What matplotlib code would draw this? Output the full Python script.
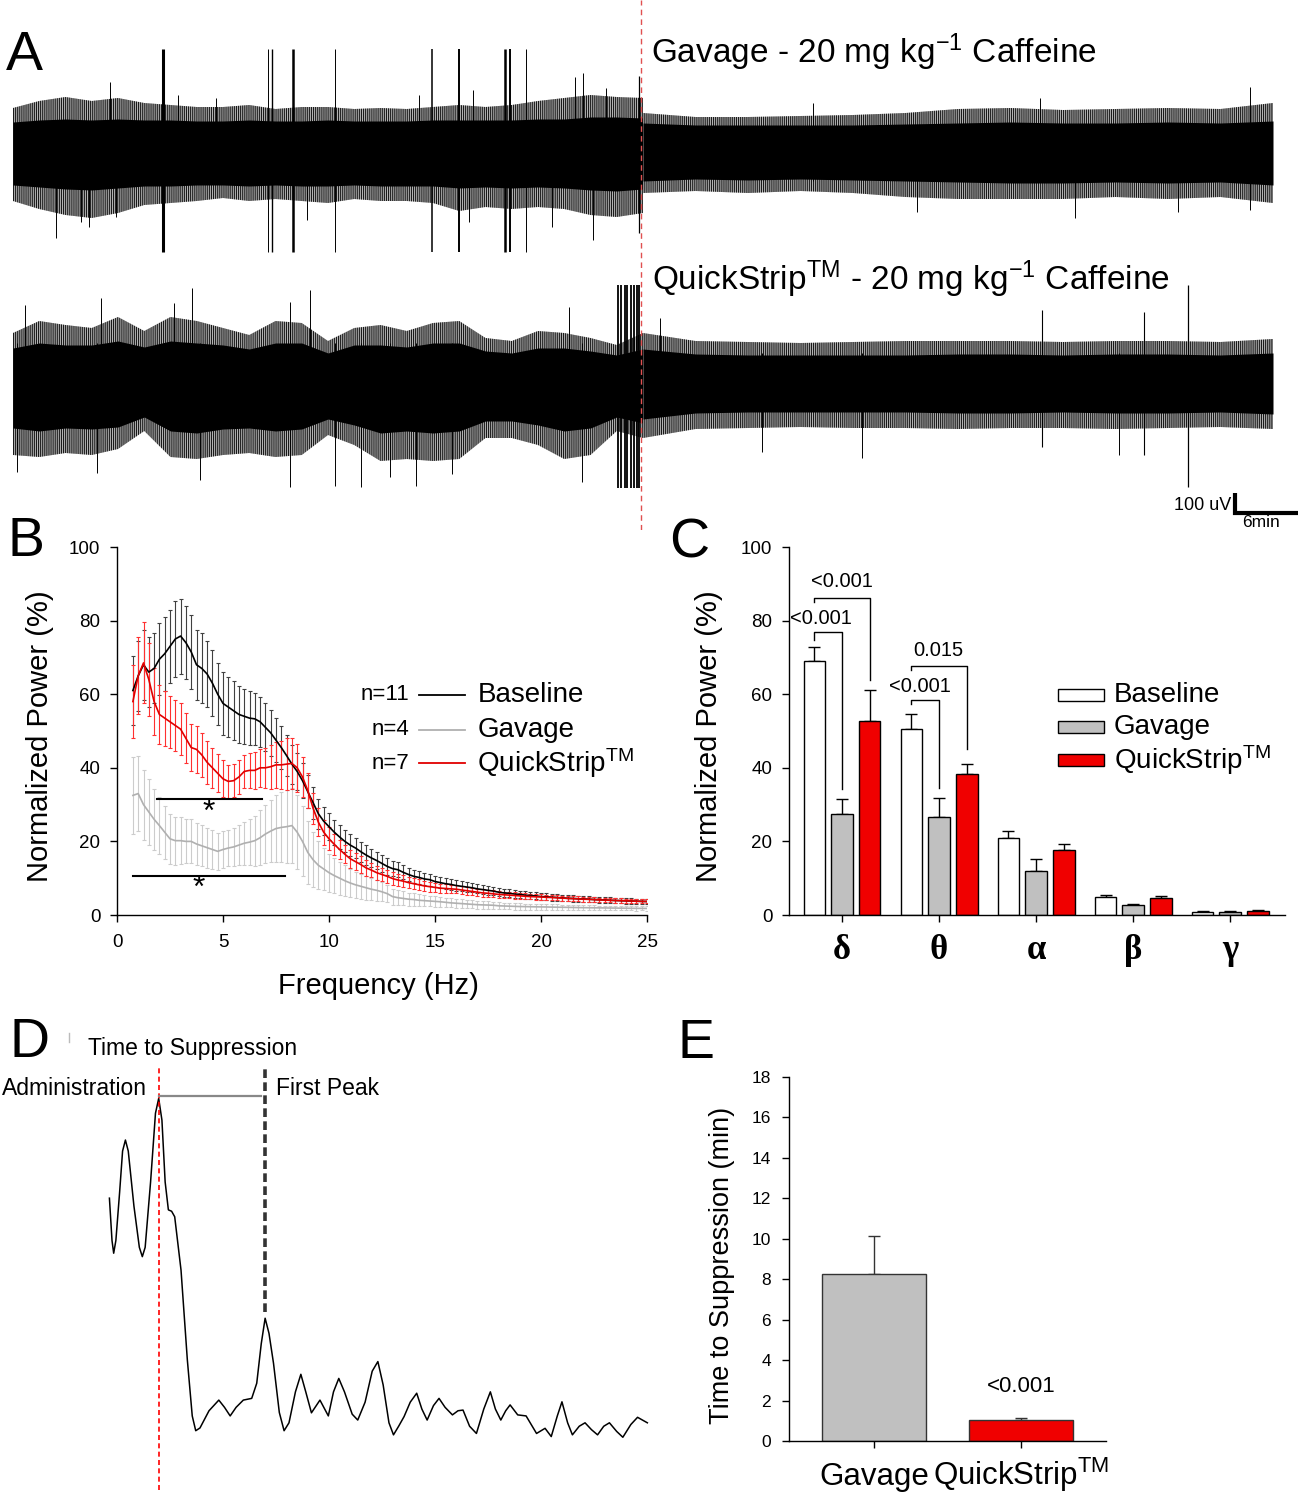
import numpy as np
import matplotlib.pyplot as plt
from matplotlib.patches import Rectangle

plt.rcParams['font.family'] = ['Liberation Sans', 'DejaVu Sans']
plt.rcParams['mathtext.fontset'] = 'custom'
plt.rcParams['mathtext.rm'] = 'Liberation Sans'
plt.rcParams['mathtext.it'] = 'Liberation Sans:italic'
plt.rcParams['mathtext.bf'] = 'Liberation Sans:bold'
plt.rcParams['hatch.linewidth'] = 0.8

# ---------------- data: panel A (EEG envelopes, uV)
t_pre = [0, 2.5, 5, 7.5, 10, 12.5, 15, 17.5, 20, 22.5, 25, 27.5, 30, 32.5,
         35, 37.5, 40, 42.5, 45, 47.5, 50, 52.5, 55, 57.5, 60]
t_post = [60, 65, 70, 75, 80, 85, 90, 95, 100, 105, 110, 115, 120]

gav_fuzz_hi_pre = [225, 260, 280, 260, 275, 250, 240, 230, 230, 240, 220, 230, 230,
                   220, 225, 220, 230, 240, 230, 240, 260, 275, 290, 280, 275]
gav_fuzz_lo_pre = [-240, -280, -310, -325, -300, -260, -250, -240, -225, -240, -230, -240, -250,
                   -230, -240, -240, -250, -290, -270, -280, -270, -280, -310, -320, -300]
gav_core_hi_pre = [155, 165, 170, 165, 170, 165, 165, 160, 160, 165, 160, 160, 165,
                   160, 160, 160, 165, 165, 165, 165, 170, 170, 180, 180, 175]
gav_core_lo_pre = [-160, -170, -180, -185, -175, -165, -165, -160, -160, -165, -160, -165, -165,
                   -160, -165, -165, -165, -175, -170, -175, -170, -175, -185, -190, -180]
gav_fuzz_hi_post = [200, 180, 180, 185, 190, 200, 220, 225, 215, 220, 225, 220, 250]
gav_fuzz_lo_post = [-200, -190, -200, -190, -200, -220, -230, -230, -230, -220, -230, -220, -250]
gav_core_hi_post = [150, 140, 140, 140, 140, 145, 150, 155, 150, 150, 155, 150, 160]
gav_core_lo_post = [-140, -130, -135, -130, -135, -140, -145, -150, -150, -145, -150, -145, -160]

qs_fuzz_hi_pre = [250, 310, 290, 275, 330, 260, 330, 310, 275, 240, 310, 300, 210,
                  275, 290, 260, 300, 310, 225, 210, 260, 250, 225, 190, 250]
qs_fuzz_lo_pre = [-360, -370, -350, -360, -330, -240, -370, -380, -360, -350, -370, -360, -260,
                  -310, -390, -380, -390, -380, -275, -275, -310, -380, -360, -240, -275]
qs_core_hi_pre = [175, 200, 190, 190, 210, 180, 210, 200, 190, 170, 200, 200, 150,
                  190, 190, 180, 200, 200, 160, 150, 175, 175, 160, 140, 170]
qs_core_lo_pre = [-225, -240, -225, -230, -220, -170, -240, -250, -230, -225, -240, -230, -180,
                  -210, -250, -240, -250, -240, -190, -190, -210, -240, -225, -170, -200]
qs_fuzz_hi_post = [250, 210, 205, 200, 205, 210, 210, 210, 205, 210, 210, 205, 220]
qs_fuzz_lo_post = [-275, -230, -225, -220, -225, -225, -230, -225, -225, -230, -225, -220, -230]
qs_core_hi_post = [170, 145, 140, 140, 140, 140, 145, 145, 140, 145, 145, 140, 150]
qs_core_lo_post = [-180, -150, -145, -145, -145, -145, -150, -150, -145, -150, -150, -145, -155]

# spikes: time (min), top (uV), bottom (uV), width (pt)
gav_spk_t = [14.29, 24.29, 24.67, 26.67, 30.67, 39.9, 42.48, 46.86, 47.33, 48.86,
             4.1, 6.48, 7.24, 9.24, 9.8, 15.7, 19.3, 28.0, 38.7, 43.4, 43.8, 51.3,
             53.5, 54.3, 55.2, 56.5, 59.6,
             76.2, 86.1, 97.8, 101.1, 111.0, 117.8]
gav_spk_hi = [520, 520, 520, 520, 520, 520, 520, 520, 520, 520,
              150, 150, 150, 355, 150, 290, 275, 150, 290, 150, 315, 150,
              380, 400, 150, 325, 385,
              250, 140, 275, 140, 140, 330]
gav_spk_lo = [-495, -495, -495, -495, -495, -495, -495, -495, -495, -495,
              -425, -345, -370, -150, -320, -150, -150, -335, -150, -345, -150, -370,
              -150, -150, -435, -150, -400,
              -140, -295, -140, -325, -295, -285]
gav_spk_w = [2.2, 0.7, 1.0, 1.8, 0.7, 1.1, 1.4, 1.8, 1.4, 0.7,
             0.7, 0.7, 0.7, 0.7, 0.7, 0.7, 0.7, 0.7, 0.7, 0.7, 0.7, 0.7,
             0.7, 0.7, 0.7, 0.7, 0.9,
             0.7, 0.7, 0.7, 0.7, 0.7, 0.7]

qs_spk_t = [57.62, 57.9, 58.24, 58.48, 58.86, 59.14, 59.43, 59.62,
            17.05, 28.29, 26.38, 30.67, 33.14, 38.38,
            1.14, 8.38, 15.33, 52.95, 0.38, 8.0, 17.8, 35.9, 41.8, 54.2,
            61.62, 98.0, 107.7, 111.9, 71.3, 80.9, 105.3]
qs_spk_hi = [490, 490, 490, 490, 490, 490, 490, 490,
             475, 465, 405, 200, 200, 200,
             390, 425, 400, 380, 200, 200, 200, 200, 200, 200,
             325, 365, 355, 490, 150, 150, 150]
qs_spk_lo = [-525, -525, -525, -525, -525, -525, -525, -525,
             -200, -200, -520, -515, -520, -515,
             -200, -200, -200, -200, -445, -450, -485, -470, -455, -495,
             -150, -320, -360, -520, -345, -375, -360]
qs_spk_w = [1.3, 1.3, 1.3, 1.3, 1.3, 1.3, 1.3, 1.3,
            0.7, 0.7, 0.7, 0.7, 0.7, 0.7,
            0.7, 0.7, 0.7, 0.7, 0.7, 0.7, 0.7, 0.7, 0.7, 0.7,
            0.7, 0.8, 0.8, 0.9, 0.7, 0.7, 0.7]

# ---------------- data: panel B (normalized power spectra, mean and SEM)
freq = np.arange(0.75, 25.01, 0.25)
base_mean = [61, 65, 68, 66, 67, 69.5, 71, 73, 75, 75.8, 74, 71.5, 68, 67, 65.5, 63, 60, 57.5,
             56.5, 55.5, 54.5, 54, 53.5, 53.3, 52.5, 51, 49.5, 47.5, 45.5, 43.3, 41, 39, 36.5,
             33.5, 30.5, 27.5, 25.5, 24,
             22.5, 21.2, 20, 19, 18.2, 17.2, 16.3, 15.5, 14.8, 14, 13.2, 12.6, 12.3, 11.6, 11,
             10.5, 10.2, 9.8, 9.6, 9.1, 8.8, 8.5, 8.3, 8.0, 7.8, 7.6, 7.4, 7.1, 6.9, 6.7, 6.5,
             6.2, 6.0, 5.9, 5.7, 5.6, 5.4, 5.3, 5.2, 5.0, 4.95, 4.85, 4.75, 4.65, 4.55, 4.5,
             4.4, 4.35, 4.3, 4.2, 4.15, 4.1, 4.0, 3.95, 3.9, 3.85, 3.8, 3.75, 3.7, 3.65]
base_sem = [9.5, 9.5, 9.5, 9.5, 9.5, 9.8, 10, 10, 10.2, 10.2, 10, 10, 9.5, 9.5, 9, 9, 8.5, 8.5,
            8.2, 8, 7.8, 7.5, 7.3, 7, 6.8, 6.5, 6.2, 6, 5.8, 5.5, 5.3, 5, 4.8, 4.5, 4.3, 4,
            3.8, 3.6,
            3.4, 3.2, 3.0, 2.9, 2.8, 2.7, 2.6, 2.5, 2.4, 2.3, 2.2, 2.1, 2.0, 1.9, 1.85, 1.8,
            1.75, 1.7, 1.65, 1.6, 1.55, 1.5, 1.45, 1.4, 1.35, 1.3, 1.28, 1.25, 1.22, 1.2, 1.18,
            1.15, 1.12, 1.1, 1.08, 1.05, 1.02, 1.0, 0.98, 0.95, 0.93, 0.92, 0.9, 0.88, 0.86,
            0.85, 0.84, 0.82, 0.8, 0.79, 0.78, 0.77, 0.76, 0.75, 0.74, 0.73, 0.72, 0.71, 0.7, 0.7]
qs_mean = [58, 65, 68.5, 64, 58, 54.5, 53.5, 52.5, 51.5, 50.5, 48, 45.5, 45, 43.5, 41.5, 40,
           38.5, 37, 36.3, 36.5, 37.5, 39, 39.3, 39.3, 40, 40, 40.3, 40.8, 40.8, 41, 41.2, 40,
           37.5, 33.8, 29, 25.2, 22.5, 20.7,
           19.2, 17.8, 16.5, 15.3, 14.5, 13.7, 12.8, 12.2, 11.5, 11.0, 10.5, 9.9, 9.5, 9.2,
           8.8, 8.5, 8.2, 7.9, 7.7, 7.5, 7.3, 7.2, 7.1, 7.0, 6.8, 6.6, 6.4, 6.2, 6.0, 5.9,
           5.75, 5.6, 5.5, 5.4, 5.3, 5.2, 5.1, 5.0, 4.95, 4.9, 4.8, 4.75, 4.7, 4.6, 4.5, 4.45,
           4.4, 4.3, 4.25, 4.2, 4.1, 4.05, 4.0, 3.95, 3.9, 3.85, 3.8, 3.75, 3.7, 3.7]
qs_sem = [10, 10.5, 11, 10, 9, 8, 7.5, 7, 7, 7, 6.8, 6.5, 6.3, 6, 5.8, 5.5, 5.2, 5, 4.5, 4.5,
          4.5, 4.5, 4.8, 5, 5.2, 5.5, 6, 6.3, 6.6, 7, 7, 6.5, 5.5, 4.8, 4.2, 3.8, 3.4, 3.1,
          2.9, 2.7, 2.5, 2.4, 2.3, 2.2, 2.1, 2.0, 1.9, 1.85, 1.8, 1.7, 1.65, 1.6, 1.55, 1.5,
          1.45, 1.4, 1.35, 1.3, 1.25, 1.2, 1.15, 1.1, 1.08, 1.05, 1.02, 1.0, 0.98, 0.95, 0.92,
          0.9, 0.88, 0.86, 0.84, 0.82, 0.8, 0.78, 0.76, 0.75, 0.74, 0.72, 0.7, 0.69, 0.68, 0.67,
          0.66, 0.65, 0.64, 0.63, 0.62, 0.61, 0.6, 0.6, 0.59, 0.58, 0.57, 0.56, 0.55, 0.55]
gav_mean = [32.5, 33, 30, 28, 26, 24.3, 22.5, 20.7, 20.2, 20.2, 20, 20, 19.3, 18.8, 18.3,
            17.8, 17.3, 17.8, 18.2, 18.5, 19, 19.5, 19.8, 20.2, 21, 22, 22.8, 23.5, 23.8, 24,
            24.3, 22.5, 20, 17, 15, 13.5, 12.5, 11.5,
            10.7, 10, 9.3, 8.7, 8.2, 7.8, 7.4, 7.0, 6.7, 6.3, 5.8, 5.0, 4.7, 4.5, 4.3, 4.2,
            4.0, 3.9, 3.8, 3.7, 3.6, 3.45, 3.3, 3.2, 3.1, 3.0, 2.9, 2.8, 2.75, 2.7, 2.65, 2.5,
            2.45, 2.4, 2.35, 2.3, 2.28, 2.25, 2.22, 2.2, 2.18, 2.15, 2.12, 2.1, 2.08, 2.05,
            2.02, 2.0, 1.98, 1.96, 1.94, 1.92, 1.9, 1.88, 1.86, 1.84, 1.82, 1.8, 1.8, 1.78]
gav_sem = [10.5, 10.3, 9.5, 9, 8.3, 7.7, 7.2, 6.8, 6.5, 6.3, 6, 6, 5.8, 5.6, 5.4, 5.2, 5, 5,
           5, 5.2, 5.5, 5.8, 6.2, 6.8, 7.5, 8, 8.5, 9, 9.5, 10, 10.2, 10, 9.5, 8.5, 7.5, 6.5,
           5.8, 5.2,
           4.8, 4.5, 4.2, 3.9, 3.6, 3.4, 3.2, 3.0, 2.8, 2.6, 2.4, 2.2, 2.0, 1.9, 1.8, 1.7,
           1.6, 1.5, 1.45, 1.4, 1.35, 1.3, 1.25, 1.2, 1.15, 1.1, 1.08, 1.05, 1.02, 1.0, 0.98,
           0.95, 0.92, 0.9, 0.88, 0.86, 0.84, 0.82, 0.8, 0.78, 0.76, 0.75, 0.74, 0.72, 0.7,
           0.69, 0.68, 0.67, 0.66, 0.65, 0.64, 0.63, 0.62, 0.61, 0.6, 0.6, 0.59, 0.58, 0.57, 0.56]

# ---------------- data: panel C (band power)
bands = ['δ', 'θ', 'α', 'β', 'γ']
c_base = [69.0, 50.5, 20.9, 4.95, 0.9]
c_base_err = [3.8, 4.2, 1.8, 0.45, 0.15]
c_gav = [27.4, 26.5, 11.9, 2.7, 0.9]
c_gav_err = [4.1, 5.4, 3.2, 0.4, 0.2]
c_qs = [52.6, 38.2, 17.7, 4.5, 1.2]
c_qs_err = [8.6, 2.7, 1.6, 0.6, 0.2]
c_pvals = ['<0.001', '<0.001', '<0.001', '0.015']

# ---------------- data: panel D (schematic power trace)
d_time = [-3.82, -3.62, -3.49, -3.32, -3.03, -2.8, -2.58, -2.36, -1.92, -1.5, -1.27, -1.05,
          -0.63, -0.25, 0.0, 0.25, 0.5, 0.75, 1.0, 1.24, 1.73, 2.22, 2.6, 2.87, 3.2, 3.9,
          4.66, 5.1, 5.54, 6.0, 6.56, 7.21, 7.6, 7.95, 8.25, 8.55, 8.9, 9.35, 9.72, 10.1,
          10.6, 11.02, 11.4, 11.84, 12.5, 13.15, 13.55, 13.96, 14.4, 15.0, 15.43, 16.0,
          16.55, 16.99, 17.4, 17.85, 18.2, 18.6, 19.02, 19.5, 20.0, 20.4, 20.81, 21.3,
          21.73, 22.2, 22.77, 23.2, 23.59, 24.1, 24.63, 25.2, 25.71, 26.1, 26.52, 26.9,
          27.24, 27.83, 28.48, 29.29, 29.95, 30.43, 30.9, 31.26, 31.7, 32.07, 32.6, 33.05,
          33.55, 34.02, 34.5, 34.94, 35.5, 35.98, 36.6, 37.12, 37.88]
d_power = [70.3, 58, 54.3, 58, 72, 84, 87.2, 84, 68, 56, 53.3, 56,
           75, 95, 99.3, 93, 75, 66.9, 66.5, 64.9, 49.4, 23.3, 7, 2.7, 3.5, 8.5,
           11.6, 9.5, 7.0, 9.5, 11.6, 12.1, 16.5, 28, 35.4, 31, 22.3, 8, 2.7, 5,
           14, 19.1, 14, 7.9, 11.6, 7.0, 14, 17.9, 14, 7.5, 5.8, 11,
           20, 22.8, 16, 5, 1.5, 4, 6.8, 11, 13.6, 9, 5.8, 10,
           12.1, 9.5, 7.3, 8.5, 8.7, 4, 1.9, 9, 14.0, 9, 5.8, 8.5,
           10.2, 7.3, 7.0, 1.9, 3.4, 1.0, 7, 11.1, 5, 1.5, 4, 5.0,
           3, 1.5, 4, 5.0, 2.5, 0.8, 4.5, 6.6, 5.0]
d_suppression = 8.25

# ---------------- data: panel E
e_groups = ['Gavage', r'QuickStrip$^{\mathrm{TM}}$']
e_mean = [8.25, 1.05]
e_err = [1.9, 0.07]

GRAY = '#c0c0c0'
RED = '#f00000'

W, H = 1299, 1495


def box(x0, y0, x1, y1):
    """pixel box (top-left origin) -> figure rect"""
    return [x0 / W, 1 - y1 / H, (x1 - x0) / W, (y1 - y0) / H]


fig = plt.figure(figsize=(W / 100, H / 100), dpi=100)

# ======================= A
axA = fig.add_axes(box(0, 0, W, 530))
PX_T, PX_V = 10.5, 5.0
axA.set_xlim(-13 / PX_T, (W - 13) / PX_T)
axA.set_ylim(-(530 - 153) * PX_V, 153 * PX_V)
axA.axis('off')

traces = [
    (0, (gav_fuzz_lo_pre, gav_fuzz_hi_pre, gav_core_lo_pre, gav_core_hi_pre),
     (gav_fuzz_lo_post, gav_fuzz_hi_post, gav_core_lo_post, gav_core_hi_post),
     (gav_spk_t, gav_spk_lo, gav_spk_hi, gav_spk_w)),
    (-1150, (qs_fuzz_lo_pre, qs_fuzz_hi_pre, qs_core_lo_pre, qs_core_hi_pre),
     (qs_fuzz_lo_post, qs_fuzz_hi_post, qs_core_lo_post, qs_core_hi_post),
     (qs_spk_t, qs_spk_lo, qs_spk_hi, qs_spk_w)),
]
for off, pre, post, spk in traces:
    for tt, (flo, fhi, clo, chi) in ((t_pre, pre), (t_post, post)):
        # fringe of the trace: dense thin vertical strokes
        axA.fill_between(tt, off + np.array(flo), off + np.array(fhi), facecolor='#b8b8b8',
                         edgecolor='#1a1a1a', hatch='||||||||', lw=0)
        axA.fill_between(tt, off + np.array(clo), off + np.array(chi), color='k', lw=0)
    st, slo, shi, sw = spk
    axA.vlines(st, off + np.array(slo), off + np.array(shi), colors='k', linewidths=sw)

axA.axvline(59.8, color='#e05050', lw=1.0, ls=(0, (4, 3)))
axA.text(60.76, 450, r'Gavage - 20 mg kg$^{\mathrm{-1}}$ Caffeine', fontsize=24,
         ha='left', va='baseline')
axA.text(60.86, -685, r'QuickStrip$^{\mathrm{TM}}$ - 20 mg kg$^{\mathrm{-1}}$ Caffeine',
         fontsize=24, ha='left', va='baseline')
# scale bar
axA.plot([116.4, 116.4, 122.4], [-1700, -1800, -1800], color='k', lw=3,
         solid_capstyle='butt', solid_joinstyle='miter')
axA.text(116.0, -1785, '100 uV', fontsize=13, ha='right', va='baseline')
axA.text(118.9, -1872, '6min', fontsize=12.5, ha='center', va='baseline')


def style_axes(ax, size=13.5):
    for s in ('top', 'right'):
        ax.spines[s].set_visible(False)
    ax.spines['left'].set_linewidth(1)
    ax.spines['bottom'].set_linewidth(1)
    ax.tick_params(direction='out', length=5, width=1, labelsize=size)


# ======================= B
axB = fig.add_axes(box(117, 547, 647, 915))
for mean, sem, col, ecol in ((gav_mean, gav_sem, '#b0b0b0', '#cccccc'),
                             (base_mean, base_sem, 'k', '#404040'),
                             (qs_mean, qs_sem, '#e00000', '#ff3030')):
    axB.errorbar(freq, mean, yerr=sem, color=col, ecolor=ecol, lw=1.2,
                 elinewidth=0.8, capsize=1.3, capthick=0.8)
axB.set_xlim(0, 25)
axB.set_ylim(0, 100)
axB.set_xticks([0, 5, 10, 15, 20, 25])
axB.set_yticks([0, 20, 40, 60, 80, 100])
style_axes(axB)
axB.tick_params(axis='x', pad=9)
axB.tick_params(axis='y', pad=7)
# significance bars
axB.plot([1.89, 6.84], [31.5, 31.5], color='k', lw=1.5)
axB.text(4.34, 27.8, '*', fontsize=23, ha='center', va='center')
axB.plot([0.75, 7.92], [10.6, 10.6], color='k', lw=1.5)
axB.text(3.87, 7.1, '*', fontsize=23, ha='center', va='center')
# legend
legB = [('n=11', 'Baseline', 'k'), ('n=4', 'Gavage', '#b0b0b0'),
        ('n=7', r'QuickStrip$^{\mathrm{TM}}$', '#e00000')]
for i, (n, lab, col) in enumerate(legB):
    yy = [0.598, 0.503, 0.413][i]
    axB.text(0.552, yy, n, transform=axB.transAxes, fontsize=16, ha='right', va='center')
    axB.plot([0.570, 0.656], [yy, yy], transform=axB.transAxes, color=col, lw=1.3)
    axB.text(0.680, yy, lab, transform=axB.transAxes, fontsize=20, ha='left', va='center')
fig.text(40 / W, 1 - 736 / H, 'Normalized Power (%)', rotation=90, fontsize=21,
         ha='center', va='center')
fig.text(378 / W, 1 - 986 / H, 'Frequency (Hz)', fontsize=21, ha='center', va='center')

# ======================= C
axC = fig.add_axes(box(789, 547, 1285, 915))
xc = np.arange(len(bands))
off, bw = 0.285, 0.222
zero = np.zeros(len(bands))
for dx, vals, errs, col in ((-off, c_base, c_base_err, 'white'), (0, c_gav, c_gav_err, GRAY),
                            (off, c_qs, c_qs_err, RED)):
    axC.bar(xc + dx, vals, bw, color=col, edgecolor='k', lw=1, zorder=2)
    axC.errorbar(xc + dx, vals, yerr=[zero, errs], fmt='none', ecolor='k', elinewidth=1,
                 capsize=4, capthick=1, zorder=1)
axC.set_xlim(-0.547, 4.565)
axC.set_ylim(0, 100)
axC.set_yticks([0, 20, 40, 60, 80, 100])
axC.set_xticks(xc)
style_axes(axC)
axC.set_xticklabels(bands, fontfamily=['Liberation Serif', 'DejaVu Serif'], fontsize=25,
                    fontweight='bold')
axC.tick_params(axis='x', pad=9)
axC.tick_params(axis='y', pad=7)
# comparison brackets: (left bar x, right bar x, top, left end, right end, label x, label y)
brk = [(-off, 0, 76.9, 74.7, 34.2, -0.213, 80.7),
       (-off, off, 86.2, 85.0, 63.8, 0.0, 90.6),
       (1 - off, 1, 58.4, 57.4, 34.6, 0.803, 62.2),
       (1 - off, 1 + off, 67.6, 66.5, 45.1, 0.993, 72.0)]
for (xl, xr, top, yl, yr, tx, ty), p in zip(brk, c_pvals):
    axC.plot([xl, xl, xr, xr], [yl, top, top, yr], color='k', lw=1)
    axC.text(tx, ty, p, fontsize=14.5, ha='center', va='center')
legC = [('Baseline', 'white'), ('Gavage', GRAY), (r'QuickStrip$^{\mathrm{TM}}$', RED)]
for i, (lab, col) in enumerate(legC):
    yy = [(915 - 695) / 368, (915 - 727) / 368, (915 - 760) / 368][i]
    axC.add_patch(Rectangle(((1058 - 789) / 496, yy - 6 / 368), 46 / 496, 12 / 368,
                            transform=axC.transAxes, facecolor=col, edgecolor='k',
                            lw=1, clip_on=False))
    axC.text((1114 - 789) / 496, yy, lab, transform=axC.transAxes, fontsize=20,
             ha='left', va='center')
fig.text(709 / W, 1 - 736 / H, 'Normalized Power (%)', rotation=90, fontsize=21,
         ha='center', va='center')

# ======================= D
axD = fig.add_axes(box(0, 1010, 660, 1495))
axD.set_xlim(-158.7 / 12.9, (660 - 158.7) / 12.9)
axD.set_ylim((1440 - 1495) / 3.44, (1440 - 1010) / 3.44)
axD.axis('off')
axD.plot(d_time, d_power, color='k', lw=1.1)
axD.plot([0, 0], [-14.5, 108], color='#ff0000', lw=1.2, ls=(0, (3, 2)))
axD.plot([d_suppression] * 2, [37.2, 108], color='#333333', lw=2.6, ls=(0, (2.4, 1.2)))
axD.plot([0, d_suppression - 0.35], [100, 100], color='#888888', lw=1.6)
axD.plot([-6.95, -6.95], [115.7, 118.3], color='#bbbbbb', lw=1)
axD.text(-5.45, 111.9, 'Time to Suppression', fontsize=16.5, ha='left', va='baseline')
axD.text(-0.88, 100.3, 'Administration', fontsize=16.5, ha='right', va='baseline')
axD.text(9.13, 100.3, 'First Peak', fontsize=16.5, ha='left', va='baseline')

# ======================= E
axE = fig.add_axes(box(789, 1077, 1106, 1441))
xe = np.arange(len(e_groups))
axE.bar(xe, e_mean, 0.71, color=[GRAY, RED], edgecolor='#333333', lw=1, zorder=2)
axE.errorbar(xe, e_mean, yerr=[[0, 0], e_err], fmt='none', ecolor='#333333', elinewidth=1,
             capsize=4, capthick=1, zorder=1)
axE.set_xlim(-0.58, 1.58)
axE.set_ylim(0, 18)
axE.set_yticks(range(0, 19, 2))
axE.set_xticks(xe)
axE.set_xticklabels([])
style_axes(axE, size=12.5)
axE.tick_params(axis='y', pad=8)
for x, lab in zip(xe, e_groups):
    axE.text(x, -2.2, lab, fontsize=22.5, ha='center', va='baseline', clip_on=False)
axE.text(1, 2.69, '<0.001', fontsize=16, ha='center', va='center')
fig.text(722 / W, 1 - 1265 / H, 'Time to Suppression (min)', rotation=90, fontsize=19.5,
         ha='center', va='center')

# ======================= panel letters
for lab, x, y in (('A', 6, 70), ('B', 8, 556), ('C', 669, 557), ('D', 10, 1057),
                  ('E', 677, 1058)):
    fig.text(x / W, 1 - y / H, lab, fontsize=40, ha='left', va='baseline')

fig.savefig('out.png', dpi=100)
